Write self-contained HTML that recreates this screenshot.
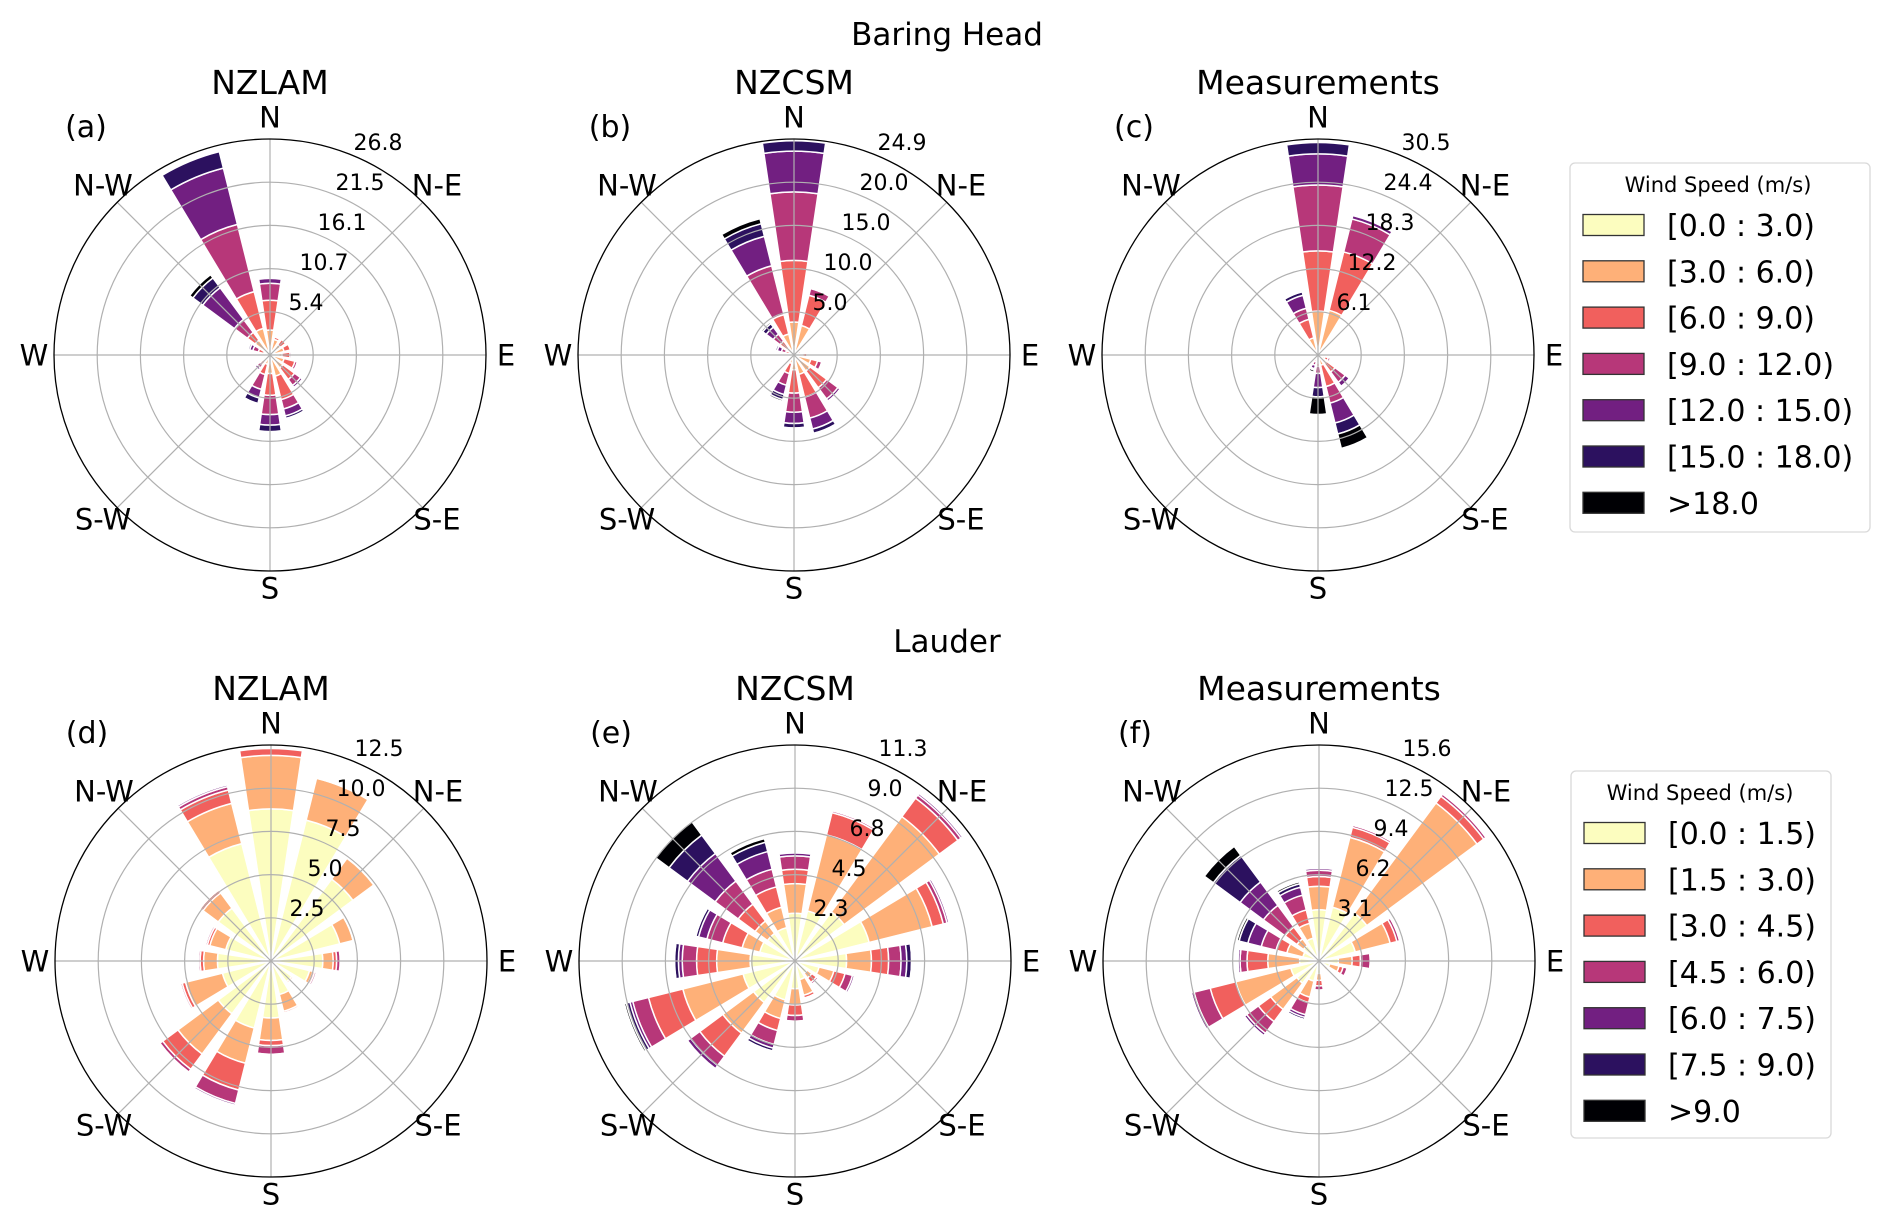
<!DOCTYPE html>
<html><head><meta charset="utf-8"><style>
html,body{margin:0;padding:0;background:#fff;}
svg{display:block;font-family:"DejaVu Sans","Liberation Sans",sans-serif;}
</style></head><body>
<svg id="fig" width="1892" height="1225" viewBox="0 0 1892 1225" xmlns="http://www.w3.org/2000/svg">
<rect width="1892" height="1225" fill="#fff"/>
<text x="947" y="45" font-size="31" text-anchor="middle">Baring Head</text>
<text x="947" y="652" font-size="31" text-anchor="middle">Lauder</text>
<g id="panels"></g>
<g id="legends"></g>
</svg>
<script>
// Directions: N, NNE, NE, ENE, E, ESE, SE, SSE, S, SSW, SW, WSW, W, WNW, NW, NNW
// Each row: cumulative frequency (%) at top of each speed bin (7 bins)
const baringColors = ["#fcfdbf","#feb078","#f1605d","#b73779","#721f81","#2c115f","#000004"];
const lauderColors = baringColors;
const baringBins = ["[0.0 : 3.0)","[3.0 : 6.0)","[6.0 : 9.0)","[9.0 : 12.0)","[12.0 : 15.0)","[15.0 : 18.0)",">18.0"];
const lauderBins = ["[0.0 : 1.5)","[1.5 : 3.0)","[3.0 : 4.5)","[4.5 : 6.0)","[6.0 : 7.5)","[7.5 : 9.0)",">9.0"];

const ticksA = ["5.4","10.7","16.1","21.5","26.8"];
const ticksB = ["5.0","10.0","15.0","20.0","24.9"];
const ticksC = ["6.1","12.2","18.3","24.4","30.5"];
const ticksD = ["2.5","5.0","7.5","10.0","12.5"];
const ticksE = ["2.3","4.5","6.8","9.0","11.3"];
const ticksF = ["3.1","6.2","9.4","12.5","15.6"];
const maxA = 26.8, maxB = 24.9, maxC = 30.5, maxD = 12.5, maxE = 11.3, maxF = 15.6;

const cumA = [
[0.2,3.1,6.8,8.9,9.5,9.5,9.5],[0.1,2.0,2.3,2.3,2.3,2.3,2.3],[0.1,1.6,2.4,2.4,2.4,2.4,2.4],[0.1,1.8,2.6,2.6,2.6,2.6,2.6],
[0.1,1.5,2.5,2.7,2.7,2.7,2.7],[0.1,1.8,3.2,3.5,3.6,3.6,3.6],[0.1,2.0,3.8,4.7,5.0,5.1,5.1],[0.2,2.7,5.7,6.9,7.8,8.1,8.1],
[0.2,2.3,5.0,7.4,8.7,9.5,9.5],[0.1,1.2,2.5,4.4,5.5,6.2,6.3],[0.1,0.8,1.5,2.0,2.3,2.3,2.3],[0.1,0.4,0.7,0.9,1.0,1.0,1.0],
[0.1,0.3,0.5,0.7,0.8,0.8,0.8],[0.1,0.8,1.5,2.2,2.6,2.8,2.8],[0.2,2.3,3.5,5.5,10.4,11.9,12.4],[0.3,3.4,8.1,16.7,23.9,26.0,26.0]];
const cumB = [
[0.3,3.8,10.9,18.8,23.5,24.7,24.7],[0.3,3.5,7.1,7.9,8.0,8.0,8.0],[0.1,0.6,0.9,1.0,1.0,1.0,1.0],[0.1,0.5,0.8,0.9,0.9,0.9,0.9],
[0.1,1.0,1.5,1.6,1.6,1.6,1.6],[0.2,2.0,2.8,3.3,3.4,3.4,3.4],[0.2,2.3,4.7,6.3,6.6,6.7,6.7],[0.3,2.3,5.0,7.5,8.8,9.3,9.3],
[0.3,1.7,4.4,6.6,7.9,8.4,8.4],[0.2,1.0,2.2,3.6,4.7,5.3,5.5],[0.1,0.5,0.8,1.0,1.1,1.1,1.1],[0.1,0.3,0.5,0.6,0.6,0.6,0.6],
[0.1,0.3,0.4,0.5,0.5,0.5,0.5],[0.1,0.5,1.0,1.5,2.0,2.2,2.2],[0.2,1.0,2.0,3.0,4.0,4.5,4.7],[0.3,2.5,4.8,10.6,14.1,15.6,16.2]];
const cumC = [
[0.3,6.2,14.7,24.0,28.4,30.0,30.0],[0.3,6.5,15.0,19.8,20.3,20.3,20.3],[0.1,0.5,0.6,0.6,0.6,0.6,0.6],[0.1,0.3,0.3,0.3,0.3,0.3,0.3],
[0.1,0.5,0.5,0.5,0.5,0.5,0.5],[0.1,1.0,1.5,1.8,1.8,1.8,1.8],[0.1,1.5,3.0,4.8,5.5,5.7,5.7],[0.1,1.5,4.6,7.0,9.9,11.5,13.6],
[0.1,0.8,1.6,2.6,4.6,5.9,8.4],[0.1,0.5,1.0,1.5,2.0,2.2,2.5],[0.1,0.2,0.3,0.3,0.3,0.3,0.3],[0.1,0.2,0.3,0.3,0.3,0.3,0.3],
[0.1,0.2,0.3,0.3,0.3,0.3,0.3],[0.1,0.2,0.3,0.3,0.3,0.3,0.3],[0.1,0.5,1.0,1.3,1.5,1.5,1.5],[0.2,2.5,5.2,6.8,8.7,9.2,9.4]];
const cumD = [
[8.8,11.9,12.3,12.3,12.3,12.3,12.3],[8.4,10.9,10.95,11.0,11.0,11.0,11.0],[5.9,7.4,7.45,7.5,7.5,7.5,7.5],[4.1,4.9,4.95,5.0,5.0,5.0,5.0],
[3.0,3.6,3.8,4.0,4.0,4.0,4.0],[2.3,2.5,2.6,2.7,2.7,2.7,2.7],[1.5,1.6,1.6,1.6,1.6,1.6,1.6],[2.0,3.0,3.1,3.15,3.15,3.15,3.15],
[3.3,4.6,4.9,5.4,5.45,5.45,5.45],[4.0,6.1,7.7,8.5,8.6,8.6,8.6],[3.8,6.7,7.8,8.0,8.05,8.05,8.05],[2.9,5.1,5.3,5.4,5.45,5.45,5.45],
[3.1,3.9,4.1,4.2,4.25,4.25,4.25],[2.7,3.65,3.8,3.9,3.95,3.95,3.95],[3.8,4.9,5.1,5.15,5.2,5.2,5.2],[7.0,9.4,10.2,10.4,10.5,10.5,10.5]];
const cumE = [
[2.5,4.05,4.8,5.5,5.65,5.65,5.65],[2.7,6.8,8.0,8.1,8.15,8.15,8.15],[3.2,9.4,10.6,10.8,10.9,10.9,10.9],[4.0,7.4,8.0,8.2,8.3,8.3,8.3],
[2.7,4.0,4.9,5.55,5.85,6.1,6.15],[1.3,2.1,2.7,3.1,3.2,3.2,3.2],[0.8,1.1,1.4,1.5,1.5,1.5,1.5],[1.0,1.85,2.0,2.05,2.05,2.05,2.05],
[1.45,2.3,2.85,3.15,3.2,3.2,3.2],[2.1,3.1,3.75,4.5,4.7,4.85,4.9],[2.7,4.7,6.2,6.8,7.0,7.0,7.0],[2.8,6.05,7.9,8.75,8.9,9.1,9.2],
[2.35,4.1,5.15,5.9,6.1,6.3,6.35],[1.9,2.85,3.9,4.75,5.2,5.35,5.4],[1.8,2.6,3.7,5.2,7.0,8.2,9.1],[1.8,2.9,4.0,4.95,5.9,6.4,6.6]];
const cumF = [
[3.7,5.4,6.1,6.55,6.7,6.7,6.7],[4.0,9.2,9.95,10.1,10.15,10.15,10.15],[4.3,14.2,14.8,15.0,15.05,15.05,15.05],[2.7,5.3,5.8,6.0,6.05,6.05,6.05],
[1.4,2.4,3.0,3.7,3.75,3.75,3.75],[0.8,1.5,1.8,2.1,2.2,2.2,2.2],[0.5,0.8,0.9,1.0,1.0,1.0,1.0],[0.4,0.5,0.55,0.6,0.6,0.6,0.6],
[0.9,1.4,1.8,2.1,2.2,2.2,2.2],[1.5,2.7,3.1,4.0,4.2,4.35,4.4],[2.0,4.35,5.45,6.5,6.7,6.75,6.75],[2.1,6.2,8.1,9.3,9.5,9.6,9.65],
[1.4,3.7,5.2,5.7,5.85,5.95,6.0],[1.2,2.4,3.2,4.3,5.3,5.95,6.1],[1.4,2.0,3.05,5.0,7.1,9.5,10.3],[1.7,2.8,3.8,4.9,5.5,5.75,5.9]];

const NS = "http://www.w3.org/2000/svg";
const R = 216;
const WEDGE = 17 * Math.PI / 180;
const panelsG = document.getElementById('panels');
const legendsG = document.getElementById('legends');

function mk(tag, attrs, parent) {
  const e = document.createElementNS(NS, tag);
  for (const k in attrs) e.setAttribute(k, attrs[k]);
  parent.appendChild(e);
  return e;
}
function pt(cx, cy, r, a) { return [cx + r * Math.sin(a), cy - r * Math.cos(a)]; }
function sectorPath(cx, cy, r0, r1, a) {
  const a0 = a - WEDGE / 2, a1 = a + WEDGE / 2;
  const p1 = pt(cx, cy, r1, a0), p2 = pt(cx, cy, r1, a1);
  let d = "M" + p1[0].toFixed(2) + "," + p1[1].toFixed(2) + " A" + r1 + "," + r1 + " 0 0 1 " + p2[0].toFixed(2) + "," + p2[1].toFixed(2);
  if (r0 > 0.01) {
    const p3 = pt(cx, cy, r0, a1), p4 = pt(cx, cy, r0, a0);
    d += " L" + p3[0].toFixed(2) + "," + p3[1].toFixed(2) + " A" + r0 + "," + r0 + " 0 0 0 " + p4[0].toFixed(2) + "," + p4[1].toFixed(2) + " Z";
  } else {
    d += " L" + cx + "," + cy + " Z";
  }
  return d;
}

const panels = [
  {id:"a", cx:270, cy:355, title:"NZLAM", data:cumA, max:maxA, ticks:ticksA, colors:baringColors},
  {id:"b", cx:794, cy:355, title:"NZCSM", data:cumB, max:maxB, ticks:ticksB, colors:baringColors},
  {id:"c", cx:1318, cy:355, title:"Measurements", data:cumC, max:maxC, ticks:ticksC, colors:baringColors},
  {id:"d", cx:271, cy:961, title:"NZLAM", data:cumD, max:maxD, ticks:ticksD, colors:lauderColors},
  {id:"e", cx:795, cy:961, title:"NZCSM", data:cumE, max:maxE, ticks:ticksE, colors:lauderColors},
  {id:"f", cx:1319, cy:961, title:"Measurements", data:cumF, max:maxF, ticks:ticksF, colors:lauderColors}
];
const dirNames = ["N","N-E","E","S-E","S","S-W","W","N-W"];
const sectorNames = ["n","nne","ne","ene","e","ese","se","sse","s","ssw","sw","wsw","w","wnw","nw","nnw"];

panels.forEach(p => {
  const g = mk('g', {}, panelsG);
  
  
  const rScale = v => v / p.max * R;
  p.data.forEach((row, i) => {
    const a = i * Math.PI / 8;
    let prev = 0;
    row.forEach((v, b) => {
      if (v - prev > 0.0001) {
        const path = mk('path', {d: sectorPath(p.cx, p.cy, rScale(prev), rScale(v), a), fill: p.colors[b], stroke: "#fff", "stroke-width": "1.5"}, g);
        
        
      }
      prev = v;
    });
  });
  for (let k = 1; k <= 4; k++) {
    const c = mk('circle', {cx:p.cx, cy:p.cy, r:(R * k / 5), fill:"none", stroke:"#b0b0b0", "stroke-width":"1.2"}, g);
    
    
  }
  for (let k = 0; k < 8; k++) {
    const a = k * Math.PI / 4;
    const e = pt(p.cx, p.cy, R, a);
    const l = mk('line', {x1:p.cx, y1:p.cy, x2:e[0], y2:e[1], stroke:"#b0b0b0", "stroke-width":"1.2"}, g);
    
    
  }
  const oc = mk('circle', {cx:p.cx, cy:p.cy, r:R, fill:"none", stroke:"#000", "stroke-width":"1.3"}, g);
  
  
  p.ticks.forEach((t, k) => {
    const tx = mk('text', {x:p.cx + 18 + 18 * (k + 1), y:p.cy - 13 - 40 * (k + 1) + 8, "font-size":"22", "text-anchor":"middle"}, g);
    tx.textContent = t;
    
    
  });
  const dpos = [[0,-238],[167,-170],[236,0],[167,164],[0,233],[-167,164],[-236,0],[-167,-170]];
  dirNames.forEach((d, k) => {
    const tx = mk('text', {x:p.cx + dpos[k][0], y:p.cy + dpos[k][1] + 10.5, "font-size":"29", "text-anchor":"middle"}, g);
    tx.textContent = d;
    
    
  });
  const tt = mk('text', {x:p.cx, y:p.cy - 261, "font-size":"33", "text-anchor":"middle"}, g);
  tt.textContent = p.title;
  
  
  const pl = mk('text', {x:p.cx - 184, y:p.cy - 218, "font-size":"30", "text-anchor":"middle"}, g);
  pl.textContent = "(" + p.id + ")";
  
  
});

const legends = [
  {x:1570, y:163, w:300, h:369, bins:baringBins, colors:baringColors, titleX:1718},
  {x:1571, y:771, w:260, h:367, bins:lauderBins, colors:lauderColors, titleX:1700}
];
legends.forEach((L, li) => {
  const g = mk('g', {}, legendsG);
  
  
  mk('rect', {x:L.x, y:L.y, width:L.w, height:L.h, rx:5, fill:"#fff", stroke:"#d9d9d9", "stroke-width":"1.3"}, g);
  const t = mk('text', {x:L.titleX, y:L.y + 29, "font-size":"21", "text-anchor":"middle"}, g);
  t.textContent = "Wind Speed (m/s)";
  
  
  L.bins.forEach((b, i) => {
    const cy = L.y + 62 + i * 46.3;
    const r = mk('rect', {x:L.x + 13, y:cy - 10.5, width:61, height:21, fill:L.colors[i], stroke:"#333", "stroke-width":"1.3"}, g);
    
    
    const tx = mk('text', {x:L.x + 97, y:cy + 11, "font-size":"30"}, g);
    tx.textContent = b;
    
    
  });
});
</script>
</body></html>
